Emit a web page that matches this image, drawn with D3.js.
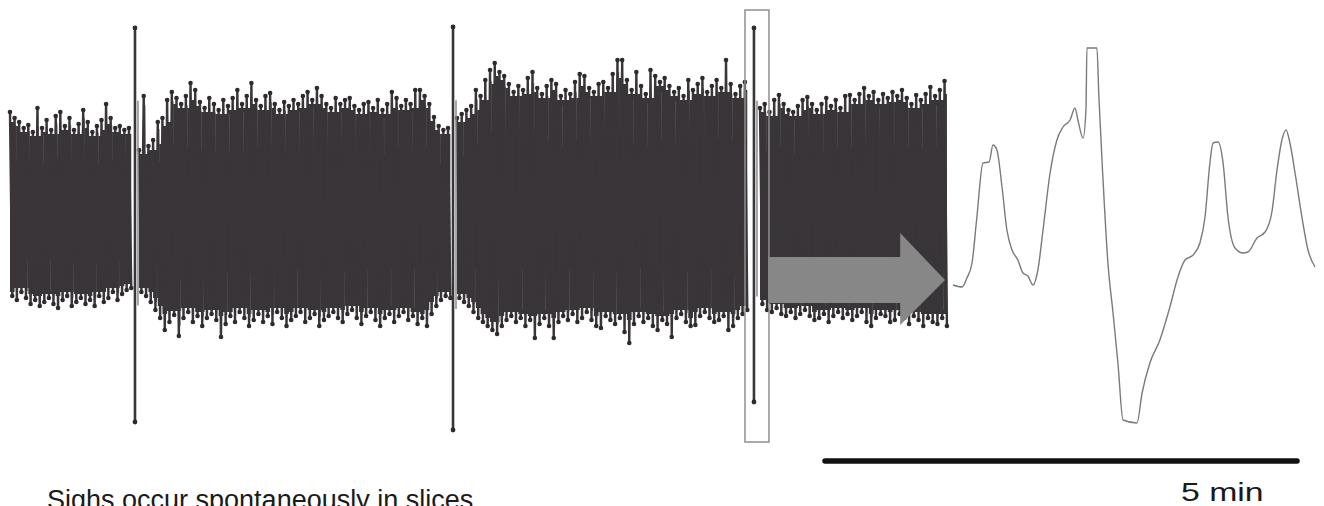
<!DOCTYPE html>
<html>
<head>
<meta charset="utf-8">
<script src="https://cdn.jsdelivr.net/npm/d3@7"></script>
<style>
  html, body { margin: 0; padding: 0; background: #fff; }
  svg { display: block; font-family: "Liberation Sans", Arial, sans-serif; }
</style>
</head>
<body>
<script>
// Integrated population activity, arbitrary units (0 = baseline), time in minutes
// peaks (tops) and troughs (bottoms) of each fast burst
const seg1Tops = [98,92,88,82,85,78,102,82,90,80,94,98,84,92,80,86,100,88,78,84,90,106,92,82,84,80,82];
const seg1Bottoms = [-86,-90,-82,-88,-94,-90,-96,-92,-88,-94,-98,-90,-86,-96,-92,-88,-94,-90,-96,-86,-92,-88,-82,-90,-84,-80,-78];

const seg2Tops = [60,114,64,70,88,92,110,118,112,106,114,127,120,108,102,112,106,100,110,104,112,120,106,114,127,110,104,114,117,106,100,108,104,110,106,114,118,110,122,114,106,102,112,106,110,112,104,100,106,108,102,110,100,106,118,112,104,110,106,120,120,114,106,93,84,80,82];
const seg2Bottoms = [-82,-86,-92,-100,-108,-120,-112,-105,-126,-108,-102,-112,-106,-116,-108,-104,-110,-127,-114,-106,-112,-102,-108,-116,-110,-104,-112,-106,-114,-102,-108,-116,-110,-106,-102,-112,-108,-104,-116,-110,-106,-102,-108,-112,-104,-100,-108,-114,-106,-102,-110,-116,-108,-104,-112,-106,-102,-110,-106,-114,-108,-116,-104,-96,-90,-86,-88];

const seg3Tops = [92,96,100,104,120,114,130,140,147,138,134,126,118,124,120,132,138,122,116,124,130,126,114,120,116,128,136,134,122,118,126,128,122,136,150,150,130,120,138,124,116,140,134,128,132,124,118,122,114,130,120,126,132,118,124,130,122,150,126,116,124,128];
const seg3Bottoms = [-88,-92,-96,-102,-108,-112,-116,-120,-124,-116,-110,-106,-112,-108,-116,-110,-128,-114,-108,-116,-128,-112,-106,-110,-104,-112,-108,-102,-110,-116,-118,-106,-110,-114,-108,-122,-133,-114,-106,-112,-108,-116,-120,-110,-114,-127,-108,-104,-112,-116,-115,-106,-102,-108,-112,-110,-106,-120,-116,-108,-104,-100];

const seg4Tops = [102,106,98,110,115,106,100,98,104,110,113,106,100,106,112,104,110,102,114,115,110,116,122,114,118,110,116,112,118,114,120,112,106,115,110,116,123,114,120,129];
const seg4Bottoms = [-94,-100,-102,-98,-104,-106,-102,-108,-104,-100,-106,-110,-108,-104,-112,-106,-102,-108,-104,-110,-106,-102,-112,-116,-108,-104,-106,-112,-110,-104,-108,-114,-106,-110,-116,-108,-112,-114,-108,-116];

const segStart = [0, 1.367, 4.735, 7.945];
const segEnd = [1.26, 4.64, 7.785, 9.9];

// sighs
const sighTimes = [1.324, 4.693, 7.881];
const sighTops = [182, 183, 182];
const sighBottoms = [-212, -220, -192];

// box around the sigh that is expanded
const boxTimes = [7.786, 8.04];
const boxValues = [200, -232];

// expanded sigh (time in s)
const expTimes = [0.04,0.41,0.61,0.82,1.02,1.27,1.52,1.68,1.84,2.05,2.25,2.46,2.70,2.91,3.11,3.32,3.52,3.73,4.02,4.30,4.55,4.84,5.04,5.16,5.37,5.49,5.53,5.94,6.02,6.19,6.39,6.60,6.80,7.01,7.58,7.79,8.11,8.52,8.93,9.26,9.55,9.88,10.16,10.37,10.57,10.70,10.90,11.11,11.31,11.60,11.93,12.13,12.50,12.83,13.11,13.32,13.52,13.69,13.85,14.06,14.34,14.59,14.88];
const expValues = [-75,-77,-68,-53,-7,47,48,65,60,23,-20,-40,-50,-63,-66,-75,-60,-20,37,70,83,90,102,90,72,100,162,162,113,30,-53,-103,-153,-210,-213,-183,-153,-130,-97,-67,-50,-45,-33,-7,47,67,68,47,-7,-38,-43,-42,-28,-22,-2,40,70,80,67,37,-7,-40,-57];

// arrow: start, head start, tip (min); shaft, head, tip values
const arrowTimes = [8.03, 9.43, 9.905];
const arrowShaft = [-47, -93];
const arrowHead = [-23, -115];
const arrowTip = -70;

const scaleBarMinutes = 5;
const scaleBarLabel = '5 min';
const caption = 'Sighs occur spontaneously in slices';

const W = 1324, H = 506;
const traceColor = '#393538';

const svg = d3.select('body').append('svg')
  .attr('width', W)
  .attr('height', H);

const x = d3.scaleLinear().domain([0, 10]).range([10, 954]);
const y = d3.scaleLinear().domain([-230, 200]).range([440, 10]);
const xExp = d3.scaleLinear().domain([0, 15]).range([952, 1318]);

const segs = [
  [seg1Tops, seg1Bottoms],
  [seg2Tops, seg2Bottoms],
  [seg3Tops, seg3Bottoms],
  [seg4Tops, seg4Bottoms]
];

const trace = svg.append('g');

segs.forEach(([tops, bottoms], s) => {
  const n = tops.length;
  const step = (segEnd[s] - segStart[s]) / (n - 1);
  const pts = [];
  const core = [];
  tops.forEach((v, i) => {
    const t = segStart[s] + i * step;
    pts.push({ t: t, v: v, top: true });
    pts.push({ t: t + step / 2, v: bottoms[i], top: false });
    const lo = Math.max(0, i - 1), hi = Math.min(n, i + 2);
    core.push({
      t: t,
      hi: d3.min(tops.slice(lo, hi)) - 4,
      lo: d3.max(bottoms.slice(lo, hi)) + 4
    });
  });
  core.push({ t: segEnd[s] + step / 2, hi: core[n - 1].hi, lo: core[n - 1].lo });

  trace.append('path')
    .datum(core)
    .attr('fill', traceColor)
    .attr('d', d3.area()
      .curve(d3.curveStepAfter)
      .x(d => x(d.t))
      .y0(d => y(d.lo))
      .y1(d => y(d.hi)));

  // light streaks seen between the bursts
  trace.selectAll(null)
    .data(pts.filter((d, i) => i % 6 === 2 || i % 10 === 7))
    .enter().append('line')
    .attr('x1', d => x(d.t) + 1.2).attr('x2', d => x(d.t) + 1.2)
    .attr('y1', d => y(d.v * 0.92))
    .attr('y2', d => y(d.v * 0.55))
    .attr('stroke', '#6c686b')
    .attr('stroke-width', 1);

  trace.append('path')
    .datum(pts)
    .attr('fill', 'none')
    .attr('stroke', traceColor)
    .attr('stroke-width', 2.4)
    .attr('d', d3.line().x(d => x(d.t)).y(d => y(d.v)));

  trace.selectAll(null)
    .data(pts)
    .enter().append('circle')
    .attr('cx', d => x(d.t))
    .attr('cy', d => y(d.v))
    .attr('r', 2.3)
    .attr('fill', '#2e2a2d');
});

// sighs
sighTimes.forEach((t, i) => {
  trace.append('line')
    .attr('x1', x(t) + 3).attr('x2', x(t) + 3)
    .attr('y1', y(sighTops[i] * 0.6)).attr('y2', y(sighBottoms[i] * 0.45))
    .attr('stroke', '#8a8a8a')
    .attr('stroke-width', 1.5);
  trace.append('line')
    .attr('x1', x(t)).attr('x2', x(t))
    .attr('y1', y(sighTops[i])).attr('y2', y(sighBottoms[i]))
    .attr('stroke', traceColor)
    .attr('stroke-width', 2.6);
  [sighTops[i], sighBottoms[i]].forEach(v => {
    trace.append('circle')
      .attr('cx', x(t)).attr('cy', y(v))
      .attr('r', 2.4)
      .attr('fill', '#2e2a2d');
  });
});

// box
svg.append('rect')
  .attr('x', x(boxTimes[0]))
  .attr('y', y(boxValues[0]))
  .attr('width', x(boxTimes[1]) - x(boxTimes[0]))
  .attr('height', y(boxValues[1]) - y(boxValues[0]))
  .attr('fill', 'none')
  .attr('stroke', '#8f8f8f')
  .attr('stroke-width', 1.5);

// arrow
const arrowPts = [
  [x(arrowTimes[0]), y(arrowShaft[0])],
  [x(arrowTimes[1]), y(arrowShaft[0])],
  [x(arrowTimes[1]), y(arrowHead[0])],
  [x(arrowTimes[2]), y(arrowTip)],
  [x(arrowTimes[1]), y(arrowHead[1])],
  [x(arrowTimes[1]), y(arrowShaft[1])],
  [x(arrowTimes[0]), y(arrowShaft[1])]
];
svg.append('polygon')
  .attr('points', arrowPts.map(p => p.join(',')).join(' '))
  .attr('fill', '#878787');

// expanded sigh
const expData = expTimes.map((t, i) => ({ t: t, v: expValues[i] }));
svg.append('path')
  .datum(expData)
  .attr('fill', 'none')
  .attr('stroke', '#7a7a7a')
  .attr('stroke-width', 1.4)
  .attr('stroke-linejoin', 'round')
  .attr('d', d3.line().curve(d3.curveMonotoneX).x(d => xExp(d.t)).y(d => y(d.v)));

// scale bar
const barX0 = 825;
const barLen = x(scaleBarMinutes) - x(0);
svg.append('line')
  .attr('x1', barX0).attr('x2', barX0 + barLen)
  .attr('y1', 461).attr('y2', 461)
  .attr('stroke', '#111')
  .attr('stroke-width', 5.5)
  .attr('stroke-linecap', 'round');

svg.append('text')
  .attr('transform', 'translate(1181,501) scale(1.3,1)')
  .attr('font-size', 26)
  .attr('fill', '#1a1a1a')
  .text(scaleBarLabel);

svg.append('text')
  .attr('x', 47)
  .attr('y', 509)
  .attr('font-size', 27)
  .attr('fill', '#1a1a1a')
  .text(caption);
</script>
</body>
</html>
